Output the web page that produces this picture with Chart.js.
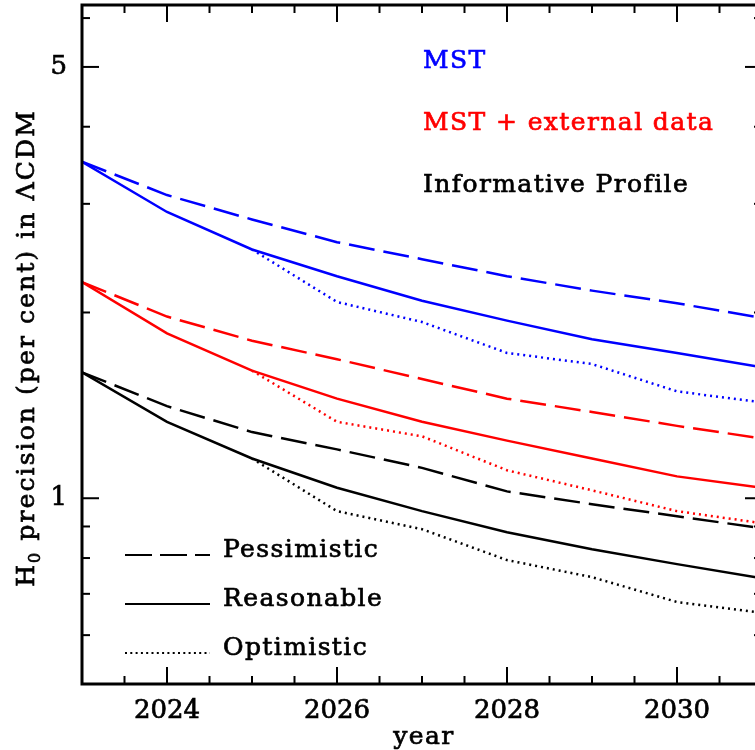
<!DOCTYPE html>
<html lang="en">

<head>
    <meta charset="UTF-8" />
    <title>H0 precision forecast</title>
    <script src="https://cdn.jsdelivr.net/npm/chart.js"></script>
    <style>
        html,
        body {
            margin: 0;
            padding: 0;
            overflow: hidden;
            background: #fff;
        }

        canvas {
            display: block;
        }
    </style>
</head>

<body>

    <!-- canvas a bit wider than the window: the right frame sits just off the picture -->
    <canvas id="h0Chart" width="770" height="750"></canvas>

    <script>
        const years = [2023, 2024, 2025, 2026, 2027, 2028, 2029, 2030, 2031];
        const optYears = [2025, 2026, 2027, 2028, 2029, 2030, 2031];

        // MST alone
        const mstPess = [3.51, 3.10, 2.83, 2.60, 2.44, 2.29, 2.17, 2.07, 1.96];
        const mstReas = [3.51, 2.91, 2.53, 2.29, 2.09, 1.94, 1.81, 1.72, 1.63];
        const mstOpt = [2.53, 2.08, 1.93, 1.72, 1.65, 1.49, 1.43];

        // MST + external data
        const extPess = [2.24, 1.97, 1.80, 1.68, 1.56, 1.45, 1.38, 1.31, 1.25];
        const extReas = [2.24, 1.85, 1.61, 1.45, 1.33, 1.24, 1.16, 1.085, 1.04];
        const extOpt = [1.61, 1.33, 1.26, 1.11, 1.03, 0.953, 0.911];

        // Informative profile
        const infPess = [1.60, 1.41, 1.28, 1.20, 1.12, 1.026, 0.978, 0.935, 0.894];
        const infReas = [1.60, 1.33, 1.16, 1.04, 0.953, 0.881, 0.827, 0.782, 0.742];
        const infOpt = [1.16, 0.953, 0.891, 0.794, 0.745, 0.679, 0.652];

        const xMajorTicks = [2024, 2026, 2028, 2030];
        const xMinorTicks = [2023.5, 2024.5, 2025, 2025.5, 2026.5, 2027, 2027.5, 2028.5, 2029, 2029.5, 2030.5];
        const yMajorTicks = [1, 5];
        const yMinorTicks = [0.6, 0.7, 0.8, 0.9, 2, 3, 4, 6];

        const FONT = '"DejaVu Serif", serif';
        const DASH = [26, 9];
        const DOT = [2, 4];

        function pts(xs, ys) {
            return xs.map((x, i) => ({ x: x, y: ys[i] }));
        }

        function ds(label, xs, ys, colour, dash) {
            return {
                label: label,
                data: pts(xs, ys),
                borderColor: colour,
                borderWidth: 2.5,
                borderDash: dash,
                pointRadius: 0,
                fill: false,
                tension: 0
            };
        }

        function seg(ctx, x1, y1, x2, y2) {
            ctx.beginPath();
            ctx.moveTo(x1, y1);
            ctx.lineTo(x2, y2);
            ctx.stroke();
        }

        // slightly heavier text, like the original plot's lettering
        function txt(ctx, s, x, y, colour) {
            ctx.fillStyle = colour;
            ctx.strokeStyle = colour;
            ctx.lineWidth = 0.7;
            ctx.setLineDash([]);
            ctx.fillText(s, x, y);
            ctx.strokeText(s, x, y);
        }

        const framePlugin = {
            id: 'frame',
            afterDraw(chart) {
                const { ctx, chartArea: a, scales: { x, y } } = chart;
                ctx.save();
                ctx.strokeStyle = '#000';
                ctx.lineCap = 'butt';

                // ticks, pointing inwards on all four sides
                ctx.lineWidth = 2;
                xMajorTicks.concat(xMinorTicks).forEach(v => {
                    const px = x.getPixelForValue(v);
                    const len = xMajorTicks.includes(v) ? 17 : 8;
                    seg(ctx, px, a.bottom, px, a.bottom - len);
                    seg(ctx, px, a.top, px, a.top + len);
                });
                yMajorTicks.concat(yMinorTicks).forEach(v => {
                    const py = y.getPixelForValue(v);
                    const len = yMajorTicks.includes(v) ? 17 : 8;
                    seg(ctx, a.left, py, a.left + len, py);
                    seg(ctx, a.right, py, a.right - len, py);
                });

                ctx.lineWidth = 3;
                ctx.strokeRect(a.left, a.top, a.right - a.left, a.bottom - a.top);

                // tick labels
                ctx.font = '26px ' + FONT;
                ctx.letterSpacing = '0px';
                ctx.textAlign = 'center';
                ctx.textBaseline = 'alphabetic';
                xMajorTicks.forEach(v => {
                    txt(ctx, String(v), x.getPixelForValue(v), a.bottom + 34, '#000');
                });
                ctx.textAlign = 'right';
                ctx.textBaseline = 'middle';
                yMajorTicks.forEach(v => {
                    txt(ctx, String(v), 67, y.getPixelForValue(v), '#000');
                });

                // axis titles
                ctx.font = '25px ' + FONT;
                ctx.letterSpacing = '1.4px';
                ctx.textAlign = 'center';
                ctx.textBaseline = 'alphabetic';
                txt(ctx, 'year', 424, 744, '#000');

                ctx.save();
                ctx.translate(34, 348);
                ctx.rotate(-Math.PI / 2);
                ctx.letterSpacing = '2.1px';
                const rest = ' precision (per cent) in \u039BCDM';
                ctx.font = '25px ' + FONT;
                const wH = ctx.measureText('H').width;
                ctx.font = '16px ' + FONT;
                const w0 = ctx.measureText('0').width;
                ctx.font = '25px ' + FONT;
                const wR = ctx.measureText(rest).width;
                let sx = -(wH + w0 + wR) / 2;
                ctx.textAlign = 'left';
                txt(ctx, 'H', sx, 0, '#000');
                ctx.font = '16px ' + FONT;
                txt(ctx, '0', sx + wH, 6, '#000');
                ctx.font = '25px ' + FONT;
                txt(ctx, rest, sx + wH + w0, 0, '#000');
                ctx.restore();

                // annotation labels, top right
                ctx.letterSpacing = '1.4px';
                ctx.textAlign = 'left';
                ctx.font = '25px ' + FONT;
                txt(ctx, 'MST', 423, 68, '#0000ff');
                txt(ctx, 'MST + external data', 423, 130, '#ff0000');
                txt(ctx, 'Informative Profile', 423, 192, '#000');

                // line style key, bottom left
                const keys = [
                    { text: 'Pessimistic', dash: [27, 8], y: 555 },
                    { text: 'Reasonable', dash: [], y: 604 },
                    { text: 'Optimistic', dash: [2, 3.3], y: 653 }
                ];
                keys.forEach(k => {
                    ctx.strokeStyle = '#000';
                    ctx.lineWidth = 2;
                    ctx.setLineDash(k.dash);
                    seg(ctx, 125, k.y, 210, k.y);
                    ctx.letterSpacing = '1.4px';
                    txt(ctx, k.text, 223, k.y + 2, '#000');
                });

                ctx.restore();
            }
        };

        const ctx = document.getElementById('h0Chart').getContext('2d');

        new Chart(ctx, {
            type: 'line',
            data: {
                datasets: [
                    ds('MST pessimistic', years, mstPess, '#0000ff', DASH),
                    ds('MST reasonable', years, mstReas, '#0000ff', []),
                    ds('MST optimistic', optYears, mstOpt, '#0000ff', DOT),
                    ds('MST + ext pessimistic', years, extPess, '#ff0000', DASH),
                    ds('MST + ext reasonable', years, extReas, '#ff0000', []),
                    ds('MST + ext optimistic', optYears, extOpt, '#ff0000', DOT),
                    ds('Informative pessimistic', years, infPess, '#000000', DASH),
                    ds('Informative reasonable', years, infReas, '#000000', []),
                    ds('Informative optimistic', optYears, infOpt, '#000000', DOT)
                ]
            },
            options: {
                responsive: false,
                animation: false,
                layout: {
                    padding: { left: 82, right: 8, top: 5, bottom: 66 }
                },
                plugins: {
                    legend: { display: false },
                    tooltip: { enabled: false }
                },
                scales: {
                    x: {
                        type: 'linear',
                        min: 2023,
                        max: 2031,
                        display: false
                    },
                    y: {
                        type: 'logarithmic',
                        min: 0.5,
                        max: 6.3,
                        display: false
                    }
                }
            },
            plugins: [framePlugin]
        });
    </script>
</body>

</html>
